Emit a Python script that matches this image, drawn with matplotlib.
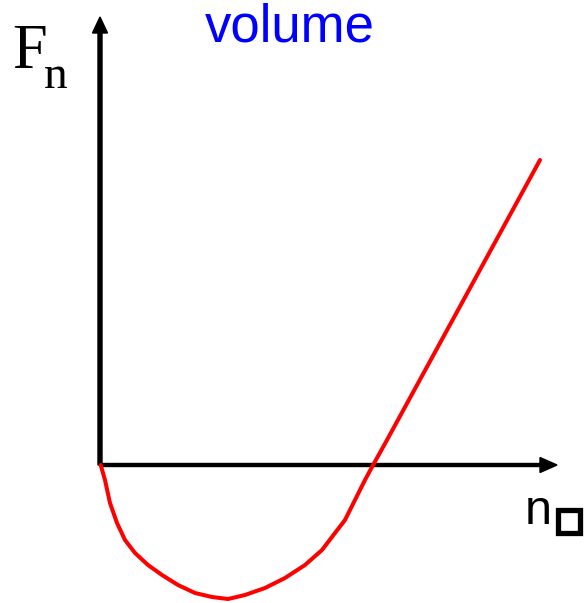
import matplotlib
matplotlib.use("Agg")
import matplotlib.pyplot as plt
from matplotlib.patches import Rectangle

# curve values (n, F_n) in chart units, origin at the axis crossing
n_vals = [0.7, 5, 10, 17, 25, 35, 48, 62, 78, 95, 112, 128, 145, 165, 185,
          205, 222, 235, 245, 255, 265, 272, 287, 440]
F_vals = [0, -15, -38, -58, -75, -88, -100, -110, -120, -128, -132, -134, -130,
          -123, -113, -100, -85, -68, -55, -35, -15, -2, 25, 305]

title_text = "volume"
y_label = "F"
y_sub = "n"
x_label = "n"

fig = plt.figure(figsize=(5.88, 6.03), dpi=100)
ax = fig.add_axes([0, 0, 1, 1])
ax.set_xlim(-100, 488)
ax.set_ylim(-138, 465)
ax.axis("off")

# axes arrows
ax.arrow(0, 0, 0, 448, width=4, head_width=15, head_length=16,
         length_includes_head=True, color="black", zorder=2)
ax.arrow(0, 0, 457, 0, width=3, head_width=15, head_length=17,
         length_includes_head=True, color="black", zorder=2)

# curve
ax.plot(n_vals, F_vals, color="#ff0000", lw=2.9, solid_capstyle="round",
        solid_joinstyle="round", zorder=3)

# labels
ax.text(190, 437, title_text, color="#0000ff", fontsize=38,
        family="Liberation Sans", ha="center", va="center")
ax.text(-88, 412, y_label, fontsize=45, family="Liberation Serif",
        ha="left", va="center")
ax.text(-56, 388, y_sub, fontsize=34, family="Liberation Serif",
        ha="left", va="center")
ax.text(438, -47, x_label, fontsize=35, family="Liberation Sans",
        ha="center", va="center")
ax.add_patch(Rectangle((457.5, -67.5), 22, 23, fill=False, lw=3.8,
                       edgecolor="black"))

fig.savefig("out.png", dpi=100)
